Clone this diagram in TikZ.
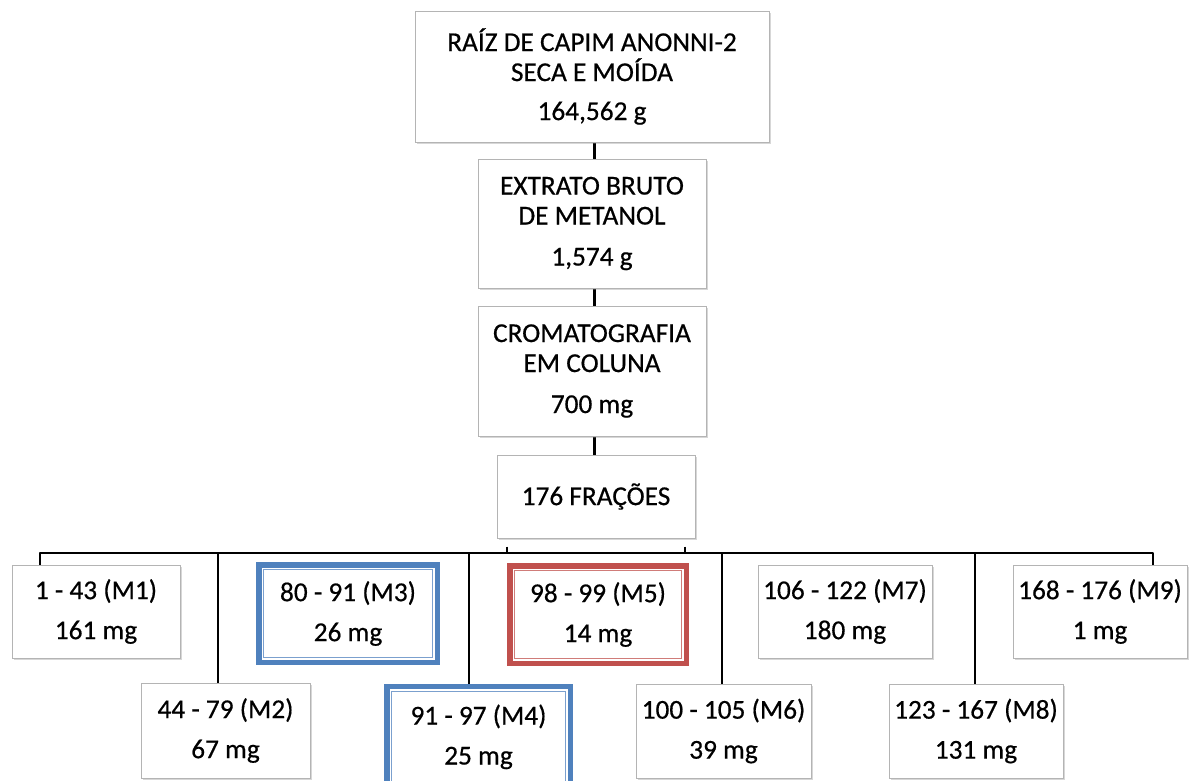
\documentclass[tikz,border=0pt]{standalone}
\usepackage{fontspec}
\setmainfont{Carlito}[FakeBold=0.5]
\usetikzlibrary{shadows,backgrounds}
\definecolor{accentblue}{RGB}{79,129,189}
\definecolor{accentred}{RGB}{192,80,77}
\definecolor{boxline}{RGB}{180,180,180}

\tikzset{
  txt/.style={align=center, inner sep=0pt, font=\fontsize{27.3}{30}\selectfont},
  stepbox/.style={txt, draw=boxline, line width=1pt, fill=white,
    drop shadow={shadow xshift=1.6pt, shadow yshift=-1.6pt, opacity=0.35, fill=black!45}},
  hlbox/.style={txt, draw=#1, line width=5.5pt, fill=white,
    path picture={\draw[#1!75, line width=1pt]
      ([xshift=4.6pt,yshift=-4.6pt]path picture bounding box.north west) rectangle
      ([xshift=-4.6pt,yshift=4.6pt]path picture bounding box.south east);}},
  link/.style={line width=3pt, black},
  busline/.style={line width=2.6pt, black},
  dropline/.style={line width=1.8pt, black},
}

\begin{document}
\begin{tikzpicture}[x=1pt, y=-1pt]
\useasboundingbox (0,0) rectangle (1195,780);

% main sequence
\node[stepbox, minimum width=354, minimum height=131] (raiz) at (592,76.5)
  {RAÍZ DE CAPIM ANONNI-2\\SECA E MOÍDA\\[9pt]164,562 g};
\node[stepbox, minimum width=228, minimum height=129] (extrato) at (592,223.5)
  {EXTRATO BRUTO\\DE METANOL\\[11pt]1,574 g};
\node[stepbox, minimum width=228, minimum height=130] (cromat) at (592,371)
  {CROMATOGRAFIA\\EM COLUNA\\[11pt]700 mg};
\node[stepbox, minimum width=198, minimum height=83] (fracoes) at (596,496.5)
  {176 FRAÇÕES};

% fractions, upper row
\node[stepbox, minimum width=168, minimum height=93] (m1) at (96,611.5)
  {1 - 43 (M1)\\[10pt]161 mg};
\node[hlbox=accentblue, minimum width=178.5, minimum height=97.5] (m3) at (348,613.5)
  {80 - 91 (M3)\\[10pt]26 mg};
\node[hlbox=accentred, minimum width=176.5, minimum height=97.5] (m5) at (598,614.5)
  {98 - 99 (M5)\\[10pt]14 mg};
\node[stepbox, minimum width=174, minimum height=93] (m7) at (845,611.5)
  {106 - 122 (M7)\\[10pt]180 mg};
\node[stepbox, minimum width=174, minimum height=93] (m9) at (1100,611.5)
  {168 - 176 (M9)\\[10pt]1 mg};

% fractions, lower row (the M4 box runs past the lower edge)
\node[stepbox, minimum width=169, minimum height=95] (m2) at (225.5,730.5)
  {44 - 79 (M2)\\[10pt]67 mg};
\node[hlbox=accentblue, minimum width=183.5, minimum height=104] (m4) at (478.5,738.5)
  {\raisebox{8pt}{\begin{tabular}{@{}c@{}}91 - 97 (M4)\\[10pt]25 mg\end{tabular}}};
\node[stepbox, minimum width=175, minimum height=94] (m6) at (723.5,731)
  {100 - 105 (M6)\\[10pt]39 mg};
\node[stepbox, minimum width=174, minimum height=94] (m8) at (976,731)
  {123 - 167 (M8)\\[10pt]131 mg};

% connectors, kept behind the boxes
\coordinate (axis) at (594,0);
\coordinate (busL) at (40,553);
\coordinate (busR) at (1153,553);
\coordinate (t1) at (507,553);
\coordinate (t2) at (685,553);
\coordinate (d2) at (218,553);
\coordinate (d4) at (469,553);
\coordinate (d6) at (722,553);
\coordinate (d8) at (975,553);

\begin{scope}[on background layer]
\draw[link] (raiz.center -| axis) -- (extrato.center -| axis);
\draw[link] (extrato.center -| axis) -- (cromat.center -| axis);
\draw[link] (cromat.center -| axis) -- (fracoes.center -| axis);

\draw[busline, line cap=round, line join=round]
  (busL |- m1.center) -- (busL) -- (busR) -- (busR |- m9.center);
\draw[busline, shorten <=8pt] (t1 |- fracoes.south) -- (t1);
\draw[busline, shorten <=8pt] (t2 |- fracoes.south) -- (t2);

\draw[dropline] (d2) -- (d2 |- m2.center);
\draw[dropline] (d4) -- (d4 |- m4.center);
\draw[dropline] (d6) -- (d6 |- m6.center);
\draw[dropline] (d8) -- (d8 |- m8.center);
\end{scope}
\end{tikzpicture}
\end{document}
